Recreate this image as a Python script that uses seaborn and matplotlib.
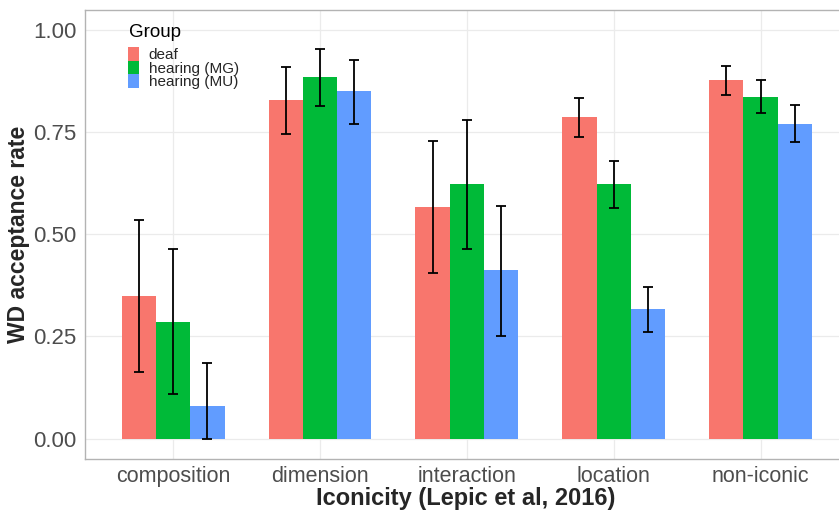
import pandas as pd
import seaborn as sns
import matplotlib.pyplot as plt

# Values
categories = ["composition", "dimension", "interaction", "location", "non-iconic"]
groups = ["deaf", "hearing (MG)", "hearing (MU)"]
colors = ["#F8766D", "#00BA38", "#619CFF"]

deaf_mean = [0.349, 0.828, 0.566, 0.787, 0.877]
deaf_lo = [0.162, 0.745, 0.404, 0.738, 0.841]
deaf_hi = [0.535, 0.909, 0.728, 0.833, 0.912]

mg_mean = [0.285, 0.885, 0.623, 0.623, 0.836]
mg_lo = [0.108, 0.814, 0.463, 0.564, 0.796]
mg_hi = [0.463, 0.953, 0.779, 0.679, 0.877]

mu_mean = [0.080, 0.850, 0.412, 0.316, 0.771]
mu_lo = [0.000, 0.770, 0.250, 0.260, 0.725]
mu_hi = [0.186, 0.926, 0.569, 0.370, 0.817]

means = [deaf_mean, mg_mean, mu_mean]
lows = [deaf_lo, mg_lo, mu_lo]
highs = [deaf_hi, mg_hi, mu_hi]

rows = []
for g, m, lo, hi in zip(groups, means, lows, highs):
    for c, v, l, h in zip(categories, m, lo, hi):
        rows.append({"iconicity": c, "group": g, "rate": v, "lo": l, "hi": h})
df = pd.DataFrame(rows)

sns.set_theme(style="white")
plt.rcParams["font.family"] = ["Liberation Sans", "DejaVu Sans"]

fig = plt.figure(figsize=(8.39, 5.12), dpi=100)
ax = fig.add_axes([85 / 839, 53 / 512, (848.7 - 85) / 839, (459 - 9.5) / 512])

sns.barplot(data=df, x="iconicity", y="rate", hue="group", order=categories,
            hue_order=groups, palette=colors, width=0.7, errorbar=None,
            saturation=1, linewidth=0, ax=ax, zorder=2)

# error bars at the centres of the drawn bars
for g, cont in zip(groups, ax.containers):
    sub = df[df["group"] == g].set_index("iconicity").loc[categories]
    xs = [b.get_x() + b.get_width() / 2 for b in cont]
    ax.errorbar(xs, sub["rate"], yerr=[sub["rate"] - sub["lo"], sub["hi"] - sub["rate"]],
                fmt="none", ecolor="black", elinewidth=1.3, capsize=3.3,
                capthick=1.3, zorder=3)

ax.set_xlim(-0.6, 4.6)
ax.set_ylim(-0.05, 1.05)
ax.set_yticks([0, 0.25, 0.5, 0.75, 1.0])
ax.set_yticklabels(["0.00", "0.25", "0.50", "0.75", "1.00"])
ax.grid(True, color="#EBEBEB", linewidth=0.9, zorder=0)
ax.set_axisbelow(True)
for s in ax.spines.values():
    s.set_color("#B3B3B3")
    s.set_linewidth(1.0)
ax.tick_params(axis="both", length=4, width=0.8, color="#B3B3B3",
               labelsize=16, labelcolor="#4D4D4D", pad=2)
ax.tick_params(axis="x", labelsize=15.5, pad=1)

ax.set_xlabel("Iconicity (Lepic et al, 2016)", fontsize=17, fontweight="bold",
              va="center")
ax.xaxis.set_label_coords(0.499, (13 - 53) / 449.5)
ax.set_ylabel("WD acceptance rate", fontsize=16.5, fontweight="bold",
              va="center")
ax.yaxis.set_label_coords((19 - 85) / 763.7, 0.5)

leg = ax.legend(loc="upper left",
                bbox_to_anchor=(128 / 839, 1 - 47 / 512),
                bbox_transform=fig.transFigure, frameon=False,
                fontsize=11, borderpad=0, borderaxespad=0,
                handlelength=0.75, handleheight=1.0, labelspacing=-0.1,
                handletextpad=0.6)
fig.text(129 / 839, 1 - 37 / 512, "Group", fontsize=13.5, va="baseline",
         ha="left", color="black")

fig.savefig("out.png", dpi=100)
